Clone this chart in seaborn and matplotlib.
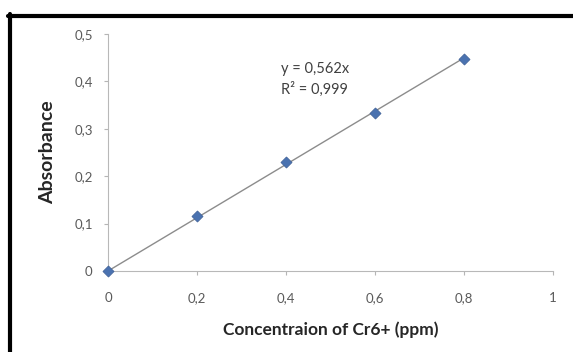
import matplotlib
matplotlib.use("Agg")
import matplotlib.pyplot as plt
from matplotlib.lines import Line2D
import numpy as np
import pandas as pd
import seaborn as sns

# Calibration data: Cr6+ concentration (ppm) vs absorbance
concentration = [0.0, 0.2, 0.4, 0.6, 0.8]
absorbance = [0.0, 0.117, 0.229, 0.334, 0.448]
slope = 0.562
r_squared = "0,999"

x_ticks = [0, 0.2, 0.4, 0.6, 0.8, 1.0]
x_tick_labels = ["0", "0,2", "0,4", "0,6", "0,8", "1"]
y_ticks = [0, 0.1, 0.2, 0.3, 0.4, 0.5]
y_tick_labels = ["0", "0,1", "0,2", "0,3", "0,4", "0,5"]

sns.set_theme(style="white")
plt.rcParams["font.family"] = ["Lato", "DejaVu Sans"]

df = pd.DataFrame({"conc": concentration, "abs": absorbance})
fit = pd.DataFrame({"conc": [concentration[0], concentration[-1]]})
fit["abs"] = slope * fit["conc"]

fig = plt.figure(figsize=(5.73, 3.52), dpi=100)
fig.patch.set_facecolor("white")
ax = fig.add_axes([108 / 573, 1 - 271 / 352, (553 - 108) / 573, (271 - 34) / 352])

sns.lineplot(data=fit, x="conc", y="abs", ax=ax, color="#8c8c8c", linewidth=1.0)
sns.scatterplot(data=df, x="conc", y="abs", ax=ax, marker="D", s=32,
                color="#4a72b0", edgecolor="#3d5f96", linewidth=0.5, zorder=3,
                clip_on=False)

ax.set_xlim(0, 1)
ax.set_ylim(0, 0.5)
ax.set_xticks(x_ticks)
ax.set_xticklabels(x_tick_labels)
ax.set_yticks(y_ticks)
ax.set_yticklabels(y_tick_labels)
ax.tick_params(axis="both", which="major", length=3, width=0.8, color="#b5b5b5",
               labelsize=9.5, labelcolor="#5a5a5a", direction="out")
ax.tick_params(axis="x", bottom=True, pad=12)
ax.tick_params(axis="y", left=True, pad=8)

for side in ("top", "right"):
    ax.spines[side].set_visible(False)
for side in ("left", "bottom"):
    ax.spines[side].set_color("#b8b8b8")
    ax.spines[side].set_linewidth(0.8)

ax.set_xlabel("Concentraion of Cr6+ (ppm)", fontsize=12.5, fontweight="bold",
              color="#262626")
ax.set_ylabel("Absorbance", fontsize=14, fontweight="bold", color="#262626")
ax.xaxis.set_label_coords(0.5, -(330 - 271) / 237, transform=ax.transAxes)
ax.yaxis.set_label_coords(-(108 - 48) / 445, 0.5, transform=ax.transAxes)
ax.xaxis.label.set_verticalalignment("center")
ax.yaxis.label.set_verticalalignment("center")

ax.text(0.389, 0.418, f"y = {str(slope).replace('.', ',')}x", fontsize=10.5,
        color="#404040", transform=ax.transData)
ax.text(0.389, 0.373, f"R² = {r_squared}", fontsize=10.5, color="#404040",
        transform=ax.transData)

# Frame edges along the top and left of the figure
fig.add_artist(Line2D([8 / 573, 1], [1 - 15.5 / 352] * 2, color="black",
                      linewidth=3, transform=fig.transFigure))
fig.add_artist(Line2D([9.5 / 573] * 2, [0, 1 - 14 / 352], color="black",
                      linewidth=3, transform=fig.transFigure))

fig.savefig("out.png", dpi=100, facecolor="white")
